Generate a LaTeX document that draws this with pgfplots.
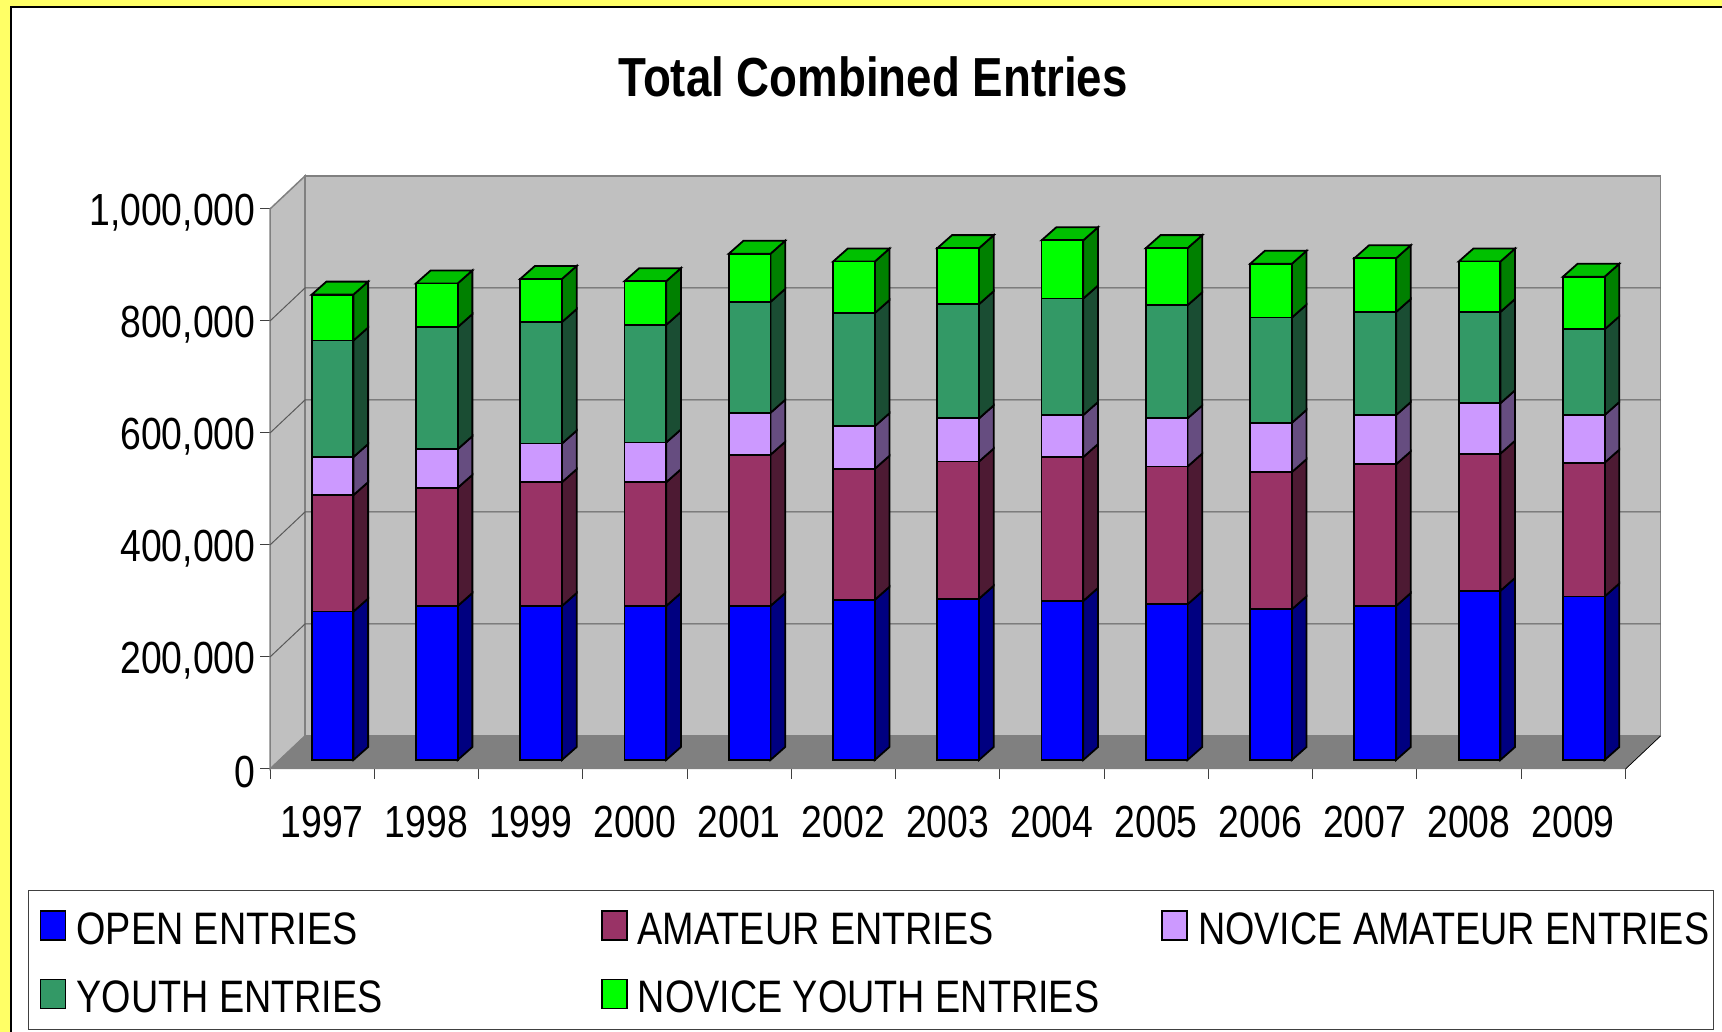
\documentclass[border=0pt]{standalone}
\usepackage{fontspec}
\setmainfont[FakeStretch=0.83]{Liberation Sans}
\usepackage{pgfplots}
\usepackage{pgfplotstable}
\pgfplotsset{compat=1.18}
\definecolor{c1}{HTML}{0000FF}\definecolor{c2}{HTML}{993366}\definecolor{c3}{HTML}{CC99FF}\definecolor{c4}{HTML}{339966}\definecolor{c5}{HTML}{00FF00}
\definecolor{side1}{HTML}{000080}\definecolor{side2}{HTML}{4D1A33}\definecolor{side3}{HTML}{664D80}\definecolor{side4}{HTML}{1A4D33}\definecolor{side5}{HTML}{008000}
\definecolor{top5}{HTML}{00C000}
\definecolor{wall}{HTML}{C0C0C0}\definecolor{flr}{HTML}{808080}\definecolor{pagey}{HTML}{FFFF66}
\pgfplotstableread{
year open amateur novam youth novyouth
1997 265000 208000 68000 208000 82000
1998 275000 211000 69000 218000 78000
1999 275000 221000 69000 217000 77000
2000 275000 221000 71000 210000 78000
2001 275000 270000 75000 198000 86000
2002 286000 234000 76000 202000 92000
2003 288000 245000 77000 204000 100000
2004 284000 257000 75000 208000 104000
2005 278000 246000 86000 202000 102000
2006 269000 245000 88000 188000 96000
2007 275000 253000 88000 184000 96000
2008 302000 245000 90000 163000 90000
2009 292000 239000 85000 153000 94000
}\entries
\newcommand{\lf}{\fontsize{45}{50}\selectfont}
\newcommand{\rl}{\rule{0pt}{38.5pt}\hspace{8pt}}
\begin{document}
\begin{tikzpicture}
\path[use as bounding box] (0,0) rectangle (1722pt,1032pt);
\fill[pagey] (0,0) rectangle (1722pt,1032pt);
\fill[white] (10pt,0) rectangle (1722pt,1025pt);
\draw[black,line width=2pt] (11pt,0) -- (11pt,1025pt) -- (1722pt,1025pt);
\begin{axis}[
  at={(270pt,263pt)},anchor=south west,scale only axis,width=1355.5pt,height=560pt,
  xmin=1996.5,xmax=2009.5,ymin=0,ymax=1000000,clip=false,
  axis lines*=left,axis line style={draw=black!75,line width=1pt,-},
  xtick={1997,...,2009},xticklabels={1997,1998,1999,2000,2001,2002,2003,2004,2005,2006,2007,2008,2009},
  minor xtick={1996.5,1997.5,...,2009.5},
  ytick={0,200000,...,1000000},scaled y ticks=false,
  yticklabel style={/pgf/number format/fixed,/pgf/number format/1000 sep={,},/pgf/number format/assume math mode=true},
  tick label style={font=\lf},
  major tick length=10pt,minor tick length=10pt,tick align=outside,
  tick style={draw=black!75,line width=1pt},
  x tick style={draw=none},
  minor x tick style={draw=black!75,line width=1pt},
  xticklabel style={yshift=-24pt},
  yticklabel style={xshift=-1pt,yshift=-3.5pt},
  title={\fontsize{55}{60}\selectfont\bfseries Total Combined Entries},
  title style={at={(axis description cs:0.4449,1.1893)},anchor=base},
]
% walls and floor
\addplot[fill=wall,draw=flr,line width=1.5pt] coordinates {(1996.5,0)(1996.8357,58929)(1996.8357,1058929)(1996.5,1000000)} --cycle;
\addplot[fill=wall,draw=flr,line width=1.5pt] coordinates {(1996.8357,58929)(2009.8357,58929)(2009.8357,1058929)(1996.8357,1058929)} --cycle;
\addplot[fill=flr,draw=flr,line width=.5pt] coordinates {(1996.5,0)(2009.5,0)(2009.8357,58929)(1996.8357,58929)} --cycle;
\addplot[draw=black,line width=.7pt] coordinates {(2009.5,0)(2009.8357,58929)};
\pgfplotsforeachungrouped \g in {200000,400000,600000,800000}{%
  \edef\temp{\noexpand\addplot[draw=black!65,line width=1pt] coordinates {(1996.5,\g)(1996.8357,\the\numexpr\g+58929\relax)(2009.8357,\the\numexpr\g+58929\relax)};}\temp
}
% side and top faces of the bars
\pgfplotsforeachungrouped \r in {0,...,12}{%
  \pgfplotstablegetelem{\r}{year}\of\entries
  \edef\yr{\pgfplotsretval}%
  \pgfmathsetmacro\xl{\yr-0.1}\pgfmathsetmacro\xr{\yr+0.3}\pgfmathsetmacro\xm{\yr+0.041}\pgfmathsetmacro\xb{\yr+0.441}%
  \def\lo{0}%
  \pgfplotsforeachungrouped \s in {1,2,3,4,5}{%
    \pgfplotstablegetelem{\r}{[index]\s}\of\entries
    \edef\hi{\the\numexpr\lo+\pgfplotsretval\relax}%
    \edef\temp{\noexpand\addplot[fill=side\s,draw=black,line width=1.8pt] coordinates {(\xr,\the\numexpr\lo+16071\relax)(\xb,\the\numexpr\lo+39285\relax)(\xb,\the\numexpr\hi+39285\relax)(\xr,\the\numexpr\hi+16071\relax)} --cycle;}\temp
    \edef\lo{\hi}%
  }%
  \edef\temp{\noexpand\addplot[fill=top5,draw=black,line width=1.8pt] coordinates {(\xl,\the\numexpr\lo+16071\relax)(\xm,\the\numexpr\lo+39285\relax)(\xb,\the\numexpr\lo+39285\relax)(\xr,\the\numexpr\lo+16071\relax)} --cycle;}\temp
}
\end{axis}
\begin{axis}[
  at={(280.4pt,272pt)},anchor=south west,scale only axis,width=1355.5pt,height=560pt,
  xmin=1996.5,xmax=2009.5,ymin=0,ymax=1000000,clip=false,hide axis,
  ybar stacked,bar width=0.4,
  legend columns=3,
  legend cell align=left,
  legend style={at={(axis description cs:-0.1861,-0.4822)},anchor=south west,draw=black!75,line width=1pt,fill=white,font=\fontsize{45.5}{52}\selectfont,inner xsep=11pt,inner ysep=13.5pt,row sep=24.5pt,/tikz/every even column/.append style={column sep=0pt}},
  legend image code/.code={\draw[#1,line width=1.8pt] (0pt,-14.5pt) rectangle (25pt,14.5pt);\path (0pt,20.5pt);},
]
\addplot[fill=c1,draw=black,line width=1.8pt] table[x=year,y=open]{\entries};
\addlegendentry{\makebox[530.5pt][l]{\rl OPEN ENTRIES}}
\addplot[fill=c2,draw=black,line width=1.8pt] table[x=year,y=amateur]{\entries};
\addlegendentry{\makebox[529.5pt][l]{\rl AMATEUR ENTRIES}}
\addplot[fill=c3,draw=black,line width=1.8pt] table[x=year,y=novam]{\entries};
\addlegendentry{\makebox[510pt][l]{\rl NOVICE AMATEUR ENTRIES}}
\addplot[fill=c4,draw=black,line width=1.8pt] table[x=year,y=youth]{\entries};
\addlegendentry{\rl YOUTH ENTRIES}
\addplot[fill=c5,draw=black,line width=1.8pt] table[x=year,y=novyouth]{\entries};
\addlegendentry{\rl NOVICE YOUTH ENTRIES}
\end{axis}
\end{tikzpicture}
\end{document}
